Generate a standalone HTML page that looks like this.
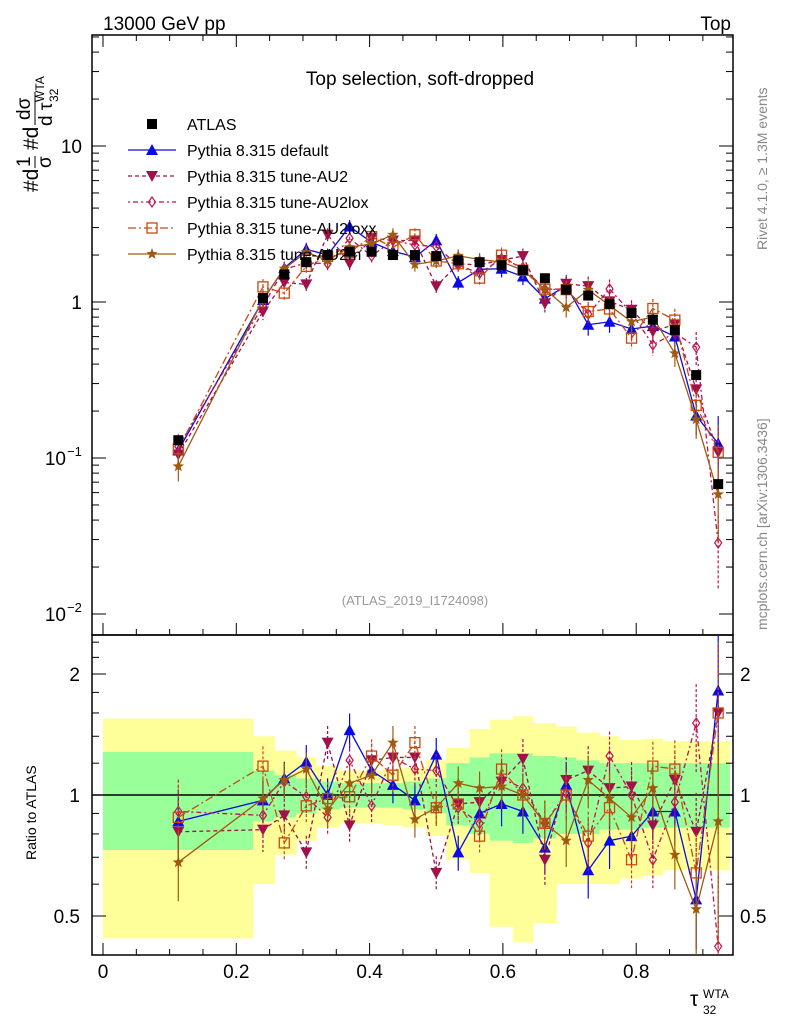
<!DOCTYPE html>
<html><head><meta charset="utf-8"><style>
body{margin:0;background:#fff}
svg{display:block;font-family:"Liberation Sans",sans-serif}
</style></head><body>
<svg id="chart" width="786" height="1024" viewBox="0 0 786 1024" xmlns="http://www.w3.org/2000/svg">
<text x="103" y="30" font-size="19">13000 GeV pp</text>
<text x="731" y="30" font-size="19" text-anchor="end">Top</text>
<text x="420" y="85" font-size="19" text-anchor="middle">Top selection, soft-dropped</text>
<text x="415" y="605" font-size="13" fill="#999" text-anchor="middle">(ATLAS_2019_I1724098)</text>
<text transform="translate(767,250) rotate(-90)" font-size="14" fill="#888">Rivet 4.1.0, ≥ 1.3M events</text>
<text transform="translate(767,630) rotate(-90)" font-size="14" fill="#888">mcplots.cern.ch [arXiv:1306.3436]</text>
<g transform="translate(38,192) rotate(-90)" font-size="21">
<text x="0" y="0">#d</text><text x="25" y="-8" font-size="19">1</text><line x1="24" x2="36" y1="-3" y2="-3" stroke="#000" stroke-width="1"/><text x="24" y="13" font-size="19">σ</text>
<text x="42" y="0">#d</text><text x="72" y="-8" font-size="19">dσ</text><line x1="67" x2="100" y1="-3" y2="-3" stroke="#000" stroke-width="1"/><text x="66" y="14" font-size="19">d τ</text><text x="90" y="20" font-size="12">32</text><text x="90" y="6" font-size="12">WTA</text>
</g>
<text transform="translate(36,860) rotate(-90)" font-size="14">Ratio to ATLAS</text>
<g><text x="690" y="1006" font-size="21">τ</text><text x="703" y="1014" font-size="12">32</text><text x="703" y="998" font-size="12">WTA</text></g>
<g id="bands"></g><g id="axes"></g><g id="series"></g><g id="legend"></g>
</svg>
<script>
const binCenters=[0.113,0.24,0.272,0.305,0.337,0.37,0.403,0.435,0.468,0.5,0.533,0.565,0.598,0.63,0.663,0.695,0.728,0.76,0.793,0.825,0.858,0.89,0.923];
const binEdges=[0,0.225,0.2575,0.29,0.32,0.355,0.385,0.42,0.45,0.485,0.515,0.55,0.58,0.615,0.645,0.68,0.71,0.745,0.775,0.81,0.84,0.875,0.905,0.94];
const atlas=[0.13,1.06,1.5,1.8,2.0,2.1,2.1,2.0,2.0,1.97,1.85,1.8,1.72,1.6,1.42,1.2,1.1,0.97,0.85,0.77,0.66,0.34,0.068];
const yellowUp=[1.55,1.4,1.29,1.24,1.18,1.15,1.15,1.16,1.17,1.22,1.31,1.46,1.54,1.57,1.51,1.48,1.43,1.4,1.37,1.38,1.36,1.36,1.36];
const yellowDn=[0.44,0.6,0.71,0.77,0.83,0.85,0.85,0.84,0.83,0.79,0.69,0.64,0.47,0.43,0.48,0.6,0.6,0.6,0.62,0.63,0.65,0.65,0.65];
const greenUp=[1.28,1.15,1.12,1.1,1.08,1.07,1.07,1.07,1.08,1.1,1.2,1.24,1.27,1.27,1.25,1.24,1.22,1.2,1.2,1.2,1.2,1.2,1.2];
const greenDn=[0.73,0.86,0.88,0.9,0.92,0.93,0.93,0.93,0.92,0.9,0.84,0.8,0.77,0.76,0.78,0.8,0.8,0.82,0.82,0.83,0.83,0.83,0.83];
const ratioDefault=[0.86,0.97,1.1,1.21,1.0,1.45,1.15,1.06,0.97,1.26,0.72,0.9,0.95,0.91,0.74,1.06,0.65,0.77,0.79,0.91,0.91,0.55,1.82];
const ratioAU2=[0.81,0.82,0.89,0.72,1.35,0.84,1.22,1.24,1.24,0.64,0.95,0.96,1.08,1.23,0.69,1.09,1.15,1.04,1.05,0.84,1.09,0.81,1.6];
const ratioAU2lox=[0.91,0.89,1.08,0.99,0.88,1.22,0.94,1.24,1.16,1.15,0.93,0.85,1.1,1.04,0.85,1.01,0.76,1.25,1.0,0.69,0.96,1.51,0.42];
const ratioAU2loxx=[0.88,1.18,0.76,0.94,0.98,0.99,1.25,1.12,1.35,0.93,0.95,0.79,1.16,1.0,0.85,1.0,0.79,0.93,0.69,1.18,1.16,0.64,1.6];
const ratioAU2m=[0.68,0.98,1.09,1.16,0.92,1.07,1.12,1.35,0.87,0.93,1.07,1.04,1.05,1.0,0.85,0.77,1.09,0.98,0.88,1.04,0.71,0.52,0.86];
const relErr=[0.2,0.12,0.1,0.1,0.1,0.1,0.1,0.1,0.1,0.1,0.1,0.1,0.12,0.12,0.14,0.14,0.15,0.15,0.15,0.15,0.18,0.25,0.5];
const legendLabels=["ATLAS","Pythia 8.315 default","Pythia 8.315 tune-AU2","Pythia 8.315 tune-AU2lox","Pythia 8.315 tune-AU2loxx","Pythia 8.315 tune-AU2m"];
const xTicks=[0,0.2,0.4,0.6,0.8];
const mainTickLabels=[["10","",146],["1","",302],["10","−1",458],["10","−2",614]];
const ratioTickVals=[0.5,1,2];

const NS="http://www.w3.org/2000/svg";
const L=92,R=733,T=35,M=635,B=955;
const xs=v=>103+666.5*v;
const ym=v=>302-156*Math.log10(v);
const yr=r=>795-121*Math.log2(r);
function mk(tag,attrs,parent){const e=document.createElementNS(NS,tag);for(const k in attrs)e.setAttribute(k,attrs[k]);parent.appendChild(e);return e;}
const axes=document.getElementById('axes'),bands=document.getElementById('bands'),ser=document.getElementById('series'),leg=document.getElementById('legend');

binCenters.forEach((c,i)=>{
 const x0=xs(binEdges[i]),x1=xs(binEdges[i+1]);
 const yb=mk('rect',{x:x0,y:yr(yellowUp[i]),width:x1-x0+0.5,height:yr(yellowDn[i])-yr(yellowUp[i]),fill:'#ffff99'},bands);
 
 
 const gb=mk('rect',{x:x0,y:yr(greenUp[i]),width:x1-x0+0.5,height:yr(greenDn[i])-yr(greenUp[i]),fill:'#99ff99'},bands);
 
 
});
const one=mk('line',{x1:L,x2:R,y1:yr(1),y2:yr(1),stroke:'#000','stroke-width':1.5},axes);



const f1=mk('rect',{x:L,y:T,width:R-L,height:M-T,fill:'none',stroke:'#000','stroke-width':1.5},axes);


const f2=mk('rect',{x:L,y:M,width:R-L,height:B-M,fill:'none',stroke:'#000','stroke-width':1.5},axes);



for(let k=0;k<=18;k++){const v=k*0.05;const x=xs(v);if(x>R)break;const big=k%4==0;
 [[M,-1],[B,-1],[T,1]].forEach(([y0,d])=>{const t=mk('line',{x1:x,x2:x,y1:y0,y2:y0+d*(big?12:6),stroke:'#000'},axes);});}
xTicks.forEach(v=>{const t=mk('text',{x:xs(v),y:978,'font-size':19,'text-anchor':'middle'},axes);t.textContent=String(v);
 
 });
for(let d=-2;d<=1;d++){for(let m=1;m<10;m++){const v=m*Math.pow(10,d);const y=ym(v);if(y<T)continue;const len=m==1?14:7;
 [[L,1],[R,-1]].forEach(([x0,s])=>{const t=mk('line',{x1:x0,x2:x0+s*len,y1:y,y2:y,stroke:'#000'},axes);});}}
mainTickLabels.forEach(([b,e,y])=>{const t=mk('text',{x:e?66:82,y:y+7,'font-size':19,'text-anchor':'end'},axes);t.textContent=b;
 
 
 if(e){const s=mk('text',{x:67,y:y-2,'font-size':13},axes);s.textContent=e;
 
 }});
[0.4,0.5,0.6,0.7,0.8,0.9,1,1.2,1.4,1.6,1.8,2,2.2,2.4].forEach(r=>{const y=yr(r);const big=ratioTickVals.includes(r);
 [[L,1],[R,-1]].forEach(([x0,s])=>{const t=mk('line',{x1:x0,x2:x0+s*(big?14:7),y1:y,y2:y,stroke:'#000'},axes);});});
ratioTickVals.forEach(r=>{[[80,'end'],[740,'start']].forEach(([x,a])=>{const t=mk('text',{x:x,y:yr(r)+7,'font-size':19,'text-anchor':a},axes);t.textContent=String(r);
 
 });});

function marker(type,x,y,color,p){
 let e;
 if(type=='sqf')e=mk('rect',{x:x-5,y:y-5,width:10,height:10,fill:'#000'},p);
 else if(type=='tu')e=mk('polygon',{points:`${x},${y-6} ${x-6},${y+5} ${x+6},${y+5}`,fill:color},p);
 else if(type=='td')e=mk('polygon',{points:`${x},${y+6} ${x-6},${y-5} ${x+6},${y-5}`,fill:color},p);
 else if(type=='dia')e=mk('polygon',{points:`${x},${y-5} ${x-3.5},${y} ${x},${y+5} ${x+3.5},${y}`,fill:'none',stroke:color,'stroke-width':1.2},p);
 else if(type=='sqo')e=mk('rect',{x:x-5,y:y-5,width:10,height:10,fill:'none',stroke:color,'stroke-width':1.3},p);
 else {let pts=[];for(let k=0;k<10;k++){const a=-Math.PI/2+k*Math.PI/5,r=k%2?2.5:6;pts.push((x+r*Math.cos(a)).toFixed(1)+','+(y+r*Math.sin(a)).toFixed(1));}
  e=mk('polygon',{points:pts.join(' '),fill:color},p);}
 return e;
}
const seriesDefs=[
 {name:'default',ratio:ratioDefault,color:'#0a0ae6',m:'tu',dash:''},
 {name:'au2',ratio:ratioAU2,color:'#a0104a',m:'td',dash:'4,3'},
 {name:'au2lox',ratio:ratioAU2lox,color:'#c01050',m:'dia',dash:'2,3,5,3'},
 {name:'au2loxx',ratio:ratioAU2loxx,color:'#c84a10',m:'sqo',dash:'8,3,2,3'},
 {name:'au2m',ratio:ratioAU2m,color:'#a05a10',m:'star',dash:''}];
seriesDefs.forEach(s=>{
 const g=mk('g',{},ser);
 
 
 const vals=atlas.map((a,i)=>a*s.ratio[i]);
 [[vals,ym,'main'],[s.ratio,yr,'ratio']].forEach(([arr,yf,pn])=>{
  const pts=binCenters.map((c,i)=>xs(c)+','+yf(arr[i])).join(' ');
  const pl=mk('polyline',{points:pts,fill:'none',stroke:s.color,'stroke-width':1.3,'stroke-dasharray':s.dash},g);
  
  
  binCenters.forEach((c,i)=>{const x=xs(c);const v=arr[i];const e=relErr[i];
   const y1=yf(v*(1+e)),y2=yf(Math.max(v*(1-e),0.001));
   const eb=mk('line',{x1:x,x2:x,y1:Math.max(y1,pn=='main'?T:M),y2:Math.min(y2,pn=='main'?M:B),stroke:s.color,'stroke-width':1.2,'stroke-dasharray':s.dash?'3,2':''},g);
   
   
   const y=yf(v);if(y<(pn=='main'?T:M)||y>(pn=='main'?M:B))return;
   const mm=marker(s.m,x,y,s.color,g);
   
   
  });
 });
});
const ag=mk('g',{},ser);


atlas.forEach((a,i)=>{const mm=marker('sqf',xs(binCenters[i]),ym(a),'#000',ag);
 
 });

const legM=['sqf','tu','td','dia','sqo','star'];
legendLabels.forEach((lab,i)=>{const y=124+i*26;const g=mk('g',{},leg);
 
 
 if(i>0){const s=seriesDefs[i-1];mk('line',{x1:128,x2:176,y1:y,y2:y,stroke:s.color,'stroke-width':1.3,'stroke-dasharray':s.dash},g);marker(legM[i],152,y,s.color,g);}
 else marker('sqf',152,y,'#000',g);
 const t=mk('text',{x:187,y:y+6,'font-size':16},g);t.textContent=lab;});
</script>
</body></html>
